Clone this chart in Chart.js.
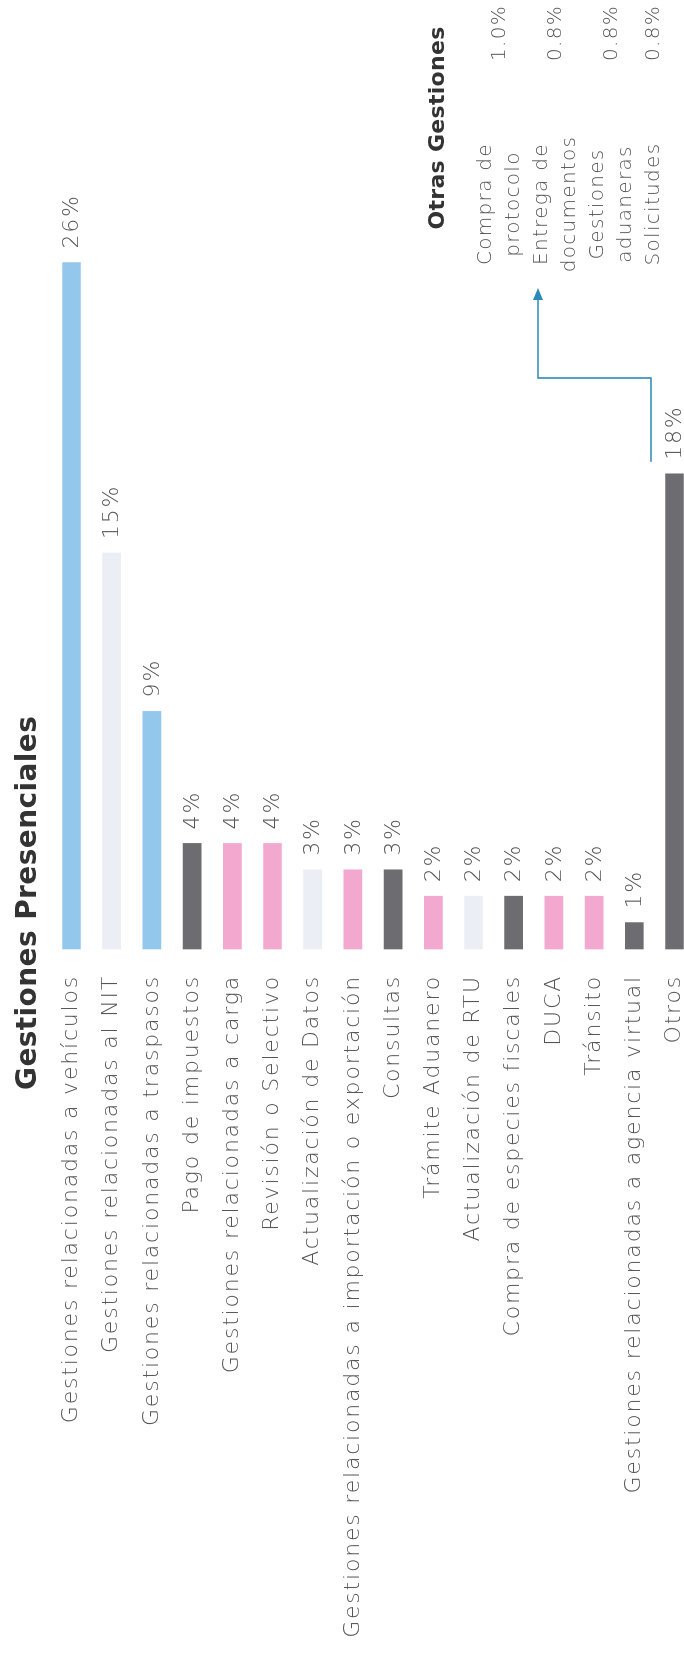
<!DOCTYPE html>
<html lang="es">
<head>
<meta charset="utf-8">
<title>Gestiones Presenciales</title>
<script src="https://cdn.jsdelivr.net/npm/chart.js@4.4.1/dist/chart.umd.min.js"></script>
<style>
  html, body { margin: 0; padding: 0; background: #fff; }
  body { width: 684px; height: 1670px; overflow: hidden; position: relative; }
  /* The chart is laid out landscape and turned a quarter turn to read bottom-to-top */
  #stage {
    position: absolute; left: 0; top: 0;
    width: 1670px; height: 684px;
    transform-origin: 0 0;
    transform: translateY(1670px) rotate(-90deg);
    font-family: "DejaVu Sans", sans-serif;
  }
  #chart { position: absolute; left: 0; top: 0; }
  #title {
    position: absolute; left: 580px; top: 11px; line-height: 32px;
    font-weight: bold; font-size: 28px; letter-spacing: 0.4px; color: #333; white-space: nowrap;
  }
  #otrasTitle {
    position: absolute; left: 1425px; top: 424px; width: 234px;
    text-align: center; font-weight: bold; font-size: 22px; letter-spacing: 0.3px; color: #333; white-space: nowrap;
  }
  #otrasTable {
    position: absolute; left: 1391px; top: 470px;
    border-collapse: collapse; font-size: 20px; font-weight: 300; letter-spacing: 1.3px; color: #555;
  }
  #otrasTable td { padding: 0; line-height: 28px; vertical-align: middle; white-space: nowrap; }
  #otrasTable td.name { width: 150px; text-align: center; }
  #otrasTable td.val { width: 124px; text-align: right; }
</style>
</head>
<body>
<div id="stage">
  <canvas id="chart" width="1670" height="684"></canvas>
  <div id="title">Gestiones Presenciales</div>
  <div id="otrasTitle">Otras Gestiones</div>
  <table id="otrasTable"><tbody id="otrasBody"></tbody></table>
</div>
<script>
// Share of in-person procedures by type (%)
const categories = [
  "Gestiones relacionadas a vehículos",
  "Gestiones relacionadas al NIT",
  "Gestiones relacionadas a traspasos",
  "Pago de impuestos",
  "Gestiones relacionadas a carga",
  "Revisión o Selectivo",
  "Actualización de Datos",
  "Gestiones relacionadas a importación o exportación",
  "Consultas",
  "Trámite Aduanero",
  "Actualización de RTU",
  "Compra de especies fiscales",
  "DUCA",
  "Tránsito",
  "Gestiones relacionadas a agencia virtual",
  "Otros"
];
const shares = [26, 15, 9, 4, 4, 4, 3, 3, 3, 2, 2, 2, 2, 2, 1, 18];

// Breakdown of the "Otros" group
const otherItems = [["Compra de", "protocolo"], ["Entrega de", "documentos"], ["Gestiones", "aduaneras"], ["Solicitudes"]];
const otherShares = ["1.0%", "0.8%", "0.8%", "0.8%"];

// Bar fill per category
const BLUE = "#93c8ec", PALE = "#eceef6", GRAY = "#6c6c71", PINK = "#f3a8d0";
const barColors = [BLUE, PALE, BLUE, GRAY, PINK, PINK, PALE, PINK, GRAY, PINK, PALE, GRAY, PINK, PINK, GRAY, GRAY];

// Side table for the "Otros" breakdown
const body = document.getElementById("otrasBody");
otherItems.forEach((lines, i) => {
  const tr = document.createElement("tr");
  const name = document.createElement("td");
  name.className = "name";
  lines.forEach((l, j) => {
    if (j) name.appendChild(document.createElement("br"));
    name.appendChild(document.createTextNode(l));
  });
  const val = document.createElement("td");
  val.className = "val";
  val.textContent = otherShares[i];
  tr.appendChild(name);
  tr.appendChild(val);
  body.appendChild(tr);
});

const LABEL_FONT = { family: "DejaVu Sans", size: 22, weight: "300" };
const LETTER_SPACING = "1.8px";
const TEXT_GRAY = "#555";
const ARROW = "#2b8ab6";

// Wide tracking for every canvas label
const tracking = {
  id: "tracking",
  beforeDraw(chart) { chart.ctx.letterSpacing = LETTER_SPACING; }
};

// Percentage labels at the bar ends plus the connector from "Otros" to its breakdown
const barAnnotations = {
  id: "barAnnotations",
  afterDatasetsDraw(chart) {
    const ctx = chart.ctx;
    const meta = chart.getDatasetMeta(0);
    ctx.save();
    ctx.letterSpacing = LETTER_SPACING;
    ctx.font = `${LABEL_FONT.weight} ${LABEL_FONT.size}px "${LABEL_FONT.family}"`;
    ctx.fillStyle = TEXT_GRAY;
    ctx.textAlign = "left";
    ctx.textBaseline = "middle";
    meta.data.forEach((bar, i) => {
      ctx.fillText(shares[i] + "%", bar.x + 14, bar.y + 1);
    });

    const last = meta.data[meta.data.length - 1];
    const x0 = last.x + 12;
    const y0 = last.y - 23.5;
    const xTurn = 1292, yTop = 538, xTip = 1382;
    ctx.strokeStyle = ARROW;
    ctx.lineWidth = 1.6;
    ctx.beginPath();
    ctx.moveTo(x0, y0);
    ctx.lineTo(xTurn, y0);
    ctx.lineTo(xTurn, yTop);
    ctx.lineTo(xTip - 10, yTop);
    ctx.stroke();
    ctx.fillStyle = ARROW;
    ctx.beginPath();
    ctx.moveTo(xTip, yTop);
    ctx.lineTo(xTip - 12, yTop - 5);
    ctx.lineTo(xTip - 12, yTop + 5);
    ctx.closePath();
    ctx.fill();
    ctx.restore();
  }
};

new Chart(document.getElementById("chart"), {
  type: "bar",
  data: {
    labels: categories,
    datasets: [{
      data: shares,
      backgroundColor: barColors,
      borderWidth: 0,
      barThickness: 18,
      clip: false
    }]
  },
  options: {
    indexAxis: "y",
    responsive: false,
    animation: false,
    devicePixelRatio: 1,
    layout: { padding: { top: 71.5, bottom: 9.5, left: 0, right: 157 } },
    plugins: { legend: { display: false }, tooltip: { enabled: false }, title: { display: false } },
    scales: {
      x: { display: false, min: 0, max: 30 },
      y: {
        offset: false,
        grid: { display: false, drawTicks: false },
        border: { display: false },
        ticks: { autoSkip: false, padding: 26, color: TEXT_GRAY, font: LABEL_FONT },
        afterFit(scale) {
          scale.width = 721;
          scale.paddingTop = 0;
          scale.paddingBottom = 0;
        }
      }
    }
  },
  plugins: [tracking, barAnnotations]
});
</script>
</body>
</html>
